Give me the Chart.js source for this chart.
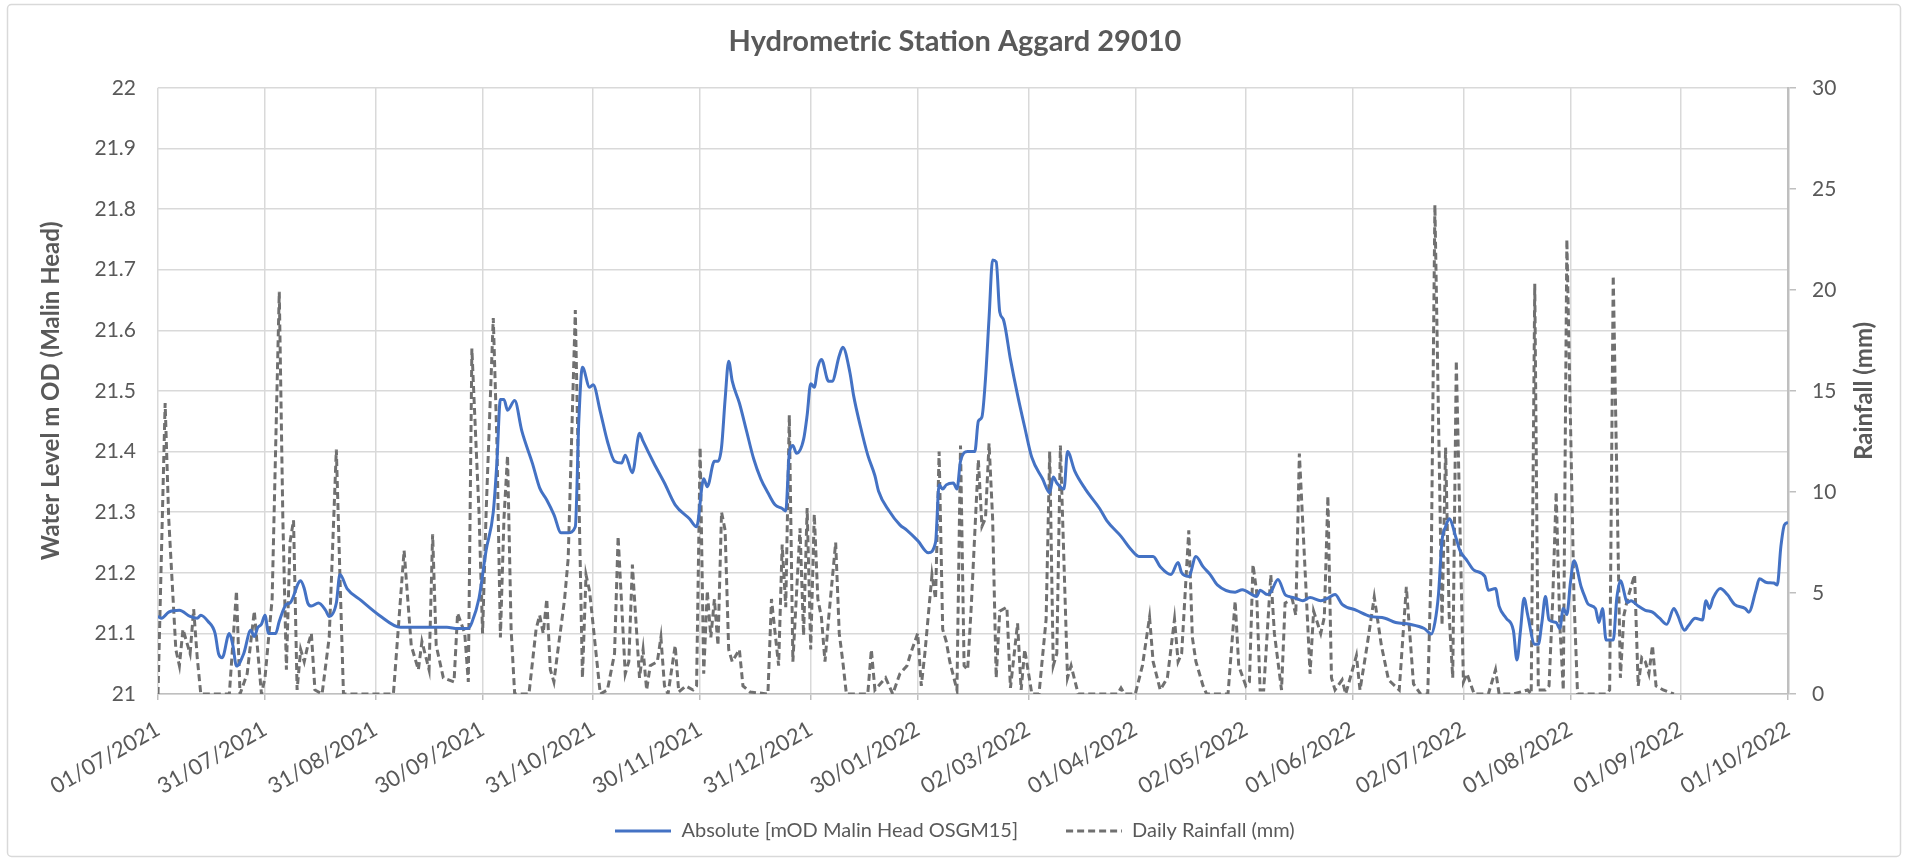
<!DOCTYPE html>
<html>
<head>
<meta charset="utf-8">
<title>Hydrometric Station Aggard 29010</title>
<script src="https://cdn.jsdelivr.net/npm/chart.js@4.4.1/dist/chart.umd.min.js"></script>
<style>
  html, body { margin: 0; padding: 0; background: #fff; }
  canvas { display: block; }
</style>
</head>
<body>
<canvas id="aggard" width="1910" height="861"></canvas>
<script>
// x axis: day number counted from 01/07/2021
const tickDays = [0, 30, 61, 91, 122, 152, 183, 213, 244, 274, 305, 335, 366, 396, 427, 457];
const tickDates = ['01/07/2021', '31/07/2021', '31/08/2021', '30/09/2021', '31/10/2021', '30/11/2021',
  '31/12/2021', '30/01/2022', '02/03/2022', '01/04/2022', '02/05/2022', '01/06/2022',
  '02/07/2022', '01/08/2022', '01/09/2022', '01/10/2022'];

// water level, mOD Malin Head
const levelDays = [0, 1, 3, 6, 9, 11, 12, 14, 16, 17, 18, 20, 21, 22, 24, 26, 27, 28, 29, 30,
  31, 33, 34, 36, 37, 40, 41, 42, 43, 45, 47, 48, 50, 51, 53, 57, 62, 68, 72, 79,
  81, 84, 87, 88, 90, 92, 94, 95, 96, 97, 98, 100, 102, 105, 107, 109, 111, 113, 115, 117,
  118, 119, 121, 122, 124, 126, 128, 130, 131, 133, 135, 136, 139, 142, 145, 149, 151, 153, 154, 156,
  157, 158, 159, 160, 161, 163, 165, 167, 169, 171, 173, 175, 176, 177, 178, 179, 181, 182, 183, 184,
  185, 186, 188, 189, 191, 192, 194, 195, 197, 199, 201, 202, 205, 208, 210, 213, 216, 218, 219, 220,
  221, 223, 224, 225, 227, 229, 230, 231, 232, 233, 234, 235, 236, 237, 239, 241, 243, 245, 248, 250,
  251, 252, 254, 255, 257, 260, 264, 266, 270, 273, 275, 279, 281, 284, 286, 287, 289, 291, 293, 295,
  297, 302, 304, 308, 309, 311, 312, 314, 316, 317, 319, 321, 323, 326, 328, 330, 332, 336, 340, 344,
  347, 351, 355, 357, 358, 359, 360, 361, 362, 364, 365, 367, 369, 372, 373, 375, 376, 378, 380, 381,
  382, 383, 384, 386, 387, 388, 389, 390, 392, 393, 394, 395, 396, 397, 399, 400, 401, 403, 404, 405,
  406, 408, 409, 410, 412, 413, 415, 417, 419, 421, 423, 425, 426, 428, 429, 431, 433, 434, 435, 436,
  438, 440, 442, 445, 446, 448, 449, 451, 453, 454, 455, 456, 457];
const levelValues = [21.128, 21.125, 21.135, 21.138, 21.128, 21.125, 21.13, 21.12, 21.10, 21.066,
  21.06, 21.10, 21.08, 21.046, 21.066, 21.105, 21.095, 21.11, 21.115, 21.13,
  21.10, 21.10, 21.12, 21.148, 21.15, 21.187, 21.174, 21.15, 21.145, 21.15,
  21.138, 21.128, 21.15, 21.197, 21.174, 21.154, 21.13, 21.11, 21.11, 21.11,
  21.11, 21.108, 21.108, 21.118, 21.158, 21.237, 21.30, 21.38, 21.486, 21.486,
  21.468, 21.484, 21.434, 21.38, 21.34, 21.32, 21.296, 21.266, 21.266, 21.276,
  21.453, 21.539, 21.506, 21.51, 21.466, 21.417, 21.384, 21.381, 21.394, 21.365,
  21.43, 21.417, 21.381, 21.348, 21.312, 21.289, 21.276, 21.355, 21.342, 21.384,
  21.384, 21.407, 21.486, 21.549, 21.516, 21.48, 21.434, 21.388, 21.355, 21.332,
  21.312, 21.306, 21.302, 21.397, 21.41, 21.397, 21.42, 21.46, 21.512, 21.506,
  21.539, 21.552, 21.516, 21.516, 21.558, 21.572, 21.53, 21.493, 21.44, 21.394,
  21.36, 21.335, 21.302, 21.279, 21.27, 21.253, 21.233, 21.25, 21.345, 21.338,
  21.345, 21.348, 21.338, 21.384, 21.40, 21.40, 21.45, 21.457, 21.52, 21.62,
  21.716, 21.713, 21.63, 21.618, 21.552, 21.493, 21.44, 21.39, 21.355, 21.332,
  21.358, 21.348, 21.338, 21.40, 21.368, 21.338, 21.306, 21.286, 21.26, 21.237,
  21.227, 21.227, 21.21, 21.197, 21.217, 21.2, 21.194, 21.227, 21.21, 21.197,
  21.18, 21.168, 21.172, 21.161, 21.171, 21.164, 21.168, 21.189, 21.164, 21.161,
  21.158, 21.154, 21.159, 21.154, 21.158, 21.164, 21.148, 21.138, 21.128, 21.125,
  21.118, 21.115, 21.108, 21.099, 21.118, 21.164, 21.253, 21.276, 21.289, 21.256,
  21.237, 21.22, 21.204, 21.194, 21.171, 21.174, 21.145, 21.125, 21.105, 21.056,
  21.105, 21.158, 21.131, 21.082, 21.082, 21.118, 21.161, 21.122, 21.118, 21.108,
  21.141, 21.131, 21.184, 21.22, 21.177, 21.161, 21.148, 21.141, 21.118, 21.141,
  21.089, 21.089, 21.158, 21.187, 21.151, 21.154, 21.145, 21.138, 21.135, 21.125,
  21.115, 21.141, 21.131, 21.105, 21.112, 21.125, 21.122, 21.154, 21.141, 21.158,
  21.174, 21.164, 21.148, 21.141, 21.135, 21.171, 21.19, 21.184, 21.183, 21.18,
  21.243, 21.279, 21.283];

// daily rainfall, mm
const rainDays = [0, 2, 3, 5, 6, 7, 9, 10, 11, 12, 20, 22, 23, 25, 27, 29, 30, 32, 34, 35,
  36, 37, 38, 39, 40, 41, 42, 43, 44, 46, 48, 50, 51, 52, 66, 69, 71, 73, 74, 76,
  77, 78, 80, 83, 84, 86, 87, 88, 89, 90, 91, 92, 94, 95, 96, 97, 98, 99, 100, 104,
  106, 107, 108, 109, 110, 111, 112, 114, 115, 117, 119, 120, 121, 124, 126, 128, 129, 131, 132, 133,
  135, 136, 137, 138, 140, 141, 142, 143, 145, 146, 148, 150, 151, 152, 153, 154, 155, 156, 157, 158,
  159, 160, 161, 163, 164, 166, 171, 172, 174, 175, 176, 177, 178, 180, 181, 182, 183, 184, 185, 186,
  187, 188, 190, 191, 192, 193, 199, 200, 201, 204, 206, 208, 210, 211, 213, 214, 215, 217, 218, 219,
  220, 221, 222, 224, 225, 226, 227, 228, 230, 231, 232, 233, 234, 235, 236, 238, 239, 241, 242, 243,
  245, 247, 249, 250, 251, 252, 253, 255, 256, 258, 269, 270, 271, 274, 276, 278, 279, 281, 283, 285,
  286, 287, 289, 290, 291, 293, 294, 300, 302, 303, 305, 306, 307, 308, 309, 310, 312, 313, 315, 316,
  318, 319, 320, 322, 323, 324, 326, 327, 328, 329, 330, 332, 333, 336, 337, 339, 341, 343, 345, 348,
  350, 352, 354, 356, 357, 358, 360, 361, 362, 363, 364, 366, 367, 369, 373, 375, 376, 380, 384, 385,
  386, 387, 389, 390, 391, 392, 393, 394, 395, 397, 398, 406, 407, 408, 410, 411, 412, 414, 415, 416,
  417, 418, 419, 420, 422, 425];
const rainValues = [0, 14.4, 8.7, 2.2, 1.4, 3.2, 2.0, 4.2, 1.8, 0, 0, 5.1, 0, 1.0, 4.1, 0, 0.8, 4.7, 19.9, 8.7,
  1.2, 7.5, 8.6, 0.2, 2.2, 1.6, 2.4, 3.0, 0.2, 0, 2.8, 12.1, 5.9, 0, 0, 7.1, 2.4, 1.2, 2.6, 1.2,
  7.9, 2.4, 0.8, 0.6, 4.0, 3.0, 0.6, 17.1, 13.0, 9.0, 3.0, 9.0, 18.6, 12.6, 2.8, 8.7, 11.8, 3.2, 0, 0,
  3.2, 3.9, 3.0, 4.7, 1.2, 0.6, 2.0, 4.7, 6.7, 19.0, 0.8, 5.9, 5.1, 0, 0.2, 2.0, 7.8, 1.0, 1.6, 6.4,
  0.8, 2.2, 0.2, 1.4, 1.6, 2.8, 0.4, 0, 2.4, 0.1, 0.4, 0.2, 0.4, 12.2, 1.0, 5.1, 2.8, 4.7, 2.4, 9.0,
  8.1, 2.2, 1.6, 2.2, 0.4, 0.1, 0, 4.7, 1.4, 7.4, 4.3, 13.8, 1.6, 8.2, 2.9, 9.2, 2.2, 8.9, 4.7, 3.8,
  1.6, 3.7, 7.5, 3.0, 1.6, 0, 0, 2.2, 0.2, 0.8, 0, 1.0, 1.4, 2.0, 3.0, 0.4, 2.0, 5.9, 4.7, 12.0,
  3.2, 2.6, 1.6, 0.2, 12.3, 1.4, 1.2, 4.3, 11.6, 8.3, 8.7, 12.4, 8.7, 0.8, 4.1, 4.3, 0.3, 3.5, 0.2, 2.2,
  0, 0, 3.7, 12.0, 1.4, 2.0, 12.3, 0.8, 1.4, 0, 0, 0.3, 0, 0, 1.4, 3.8, 1.6, 0.2, 0.8, 3.7,
  1.6, 2.0, 8.1, 2.8, 1.6, 0.4, 0, 0, 4.6, 1.4, 0.4, 0.6, 6.4, 5.1, 0.2, 0.2, 5.9, 3.0, 0.2, 4.5,
  4.7, 3.9, 11.9, 4.7, 1.0, 4.1, 3.0, 3.8, 9.8, 0.8, 0.2, 0.7, 0, 1.9, 0.2, 2.4, 4.8, 2.4, 0.7, 0.2,
  5.3, 0.5, 0, 0, 6.7, 24.2, 3.4, 12.2, 3.9, 0.8, 16.5, 0.6, 1.0, 0, 0, 1.2, 0, 0, 0.2, 0,
  20.3, 0.2, 0.2, 0.4, 4.5, 10.0, 3.5, 0.2, 22.5, 4.7, 0, 0, 0.2, 20.7, 0.8, 3.9, 4.7, 5.9, 0.4, 1.8,
  1.6, 1.0, 2.4, 0.4, 0.2, 0];

const levelPoints = levelDays.map((d, i) => ({ x: d, y: levelValues[i] }));
const rainPoints = rainDays.map((d, i) => ({ x: d, y: rainValues[i] }));

const textGrey = '#595959';
const fontName = 'Lato, "Liberation Sans", sans-serif';
const levelColour = '#4472c4';
const rainColour = '#707070';
const rainDash = [7, 4];

// little line samples for the legend (keeps the dash visible)
function legendSwatch(colour, dash) {
  const c = document.createElement('canvas');
  c.width = 56;
  c.height = 4;
  const g = c.getContext('2d');
  g.strokeStyle = colour;
  g.lineWidth = 3;
  g.setLineDash(dash);
  g.beginPath();
  g.moveTo(0, 2);
  g.lineTo(56, 2);
  g.stroke();
  return c;
}

// white card with thin grey border, like the Excel chart area
const chartFrame = {
  id: 'chartFrame',
  beforeDraw(chart) {
    const c = chart.ctx;
    c.save();
    c.fillStyle = '#ffffff';
    c.fillRect(0, 0, chart.width, chart.height);
    c.strokeStyle = '#d9d9d9';
    c.lineWidth = 1.5;
    c.beginPath();
    c.roundRect(7.5, 4.5, 1893, 852, 4);
    c.stroke();
    c.restore();
  }
};

// date labels hang below the x axis box, so don't let them get clipped
const looseDateLabels = {
  id: 'looseDateLabels',
  afterLayout(chart) {
    chart.scales.x.bottom = chart.height;
  }
};

// secondary axis title reads bottom to top
const rainTitle = {
  id: 'rainTitle',
  afterDraw(chart) {
    const c = chart.ctx;
    const area = chart.chartArea;
    c.save();
    c.translate(1864, (area.top + area.bottom) / 2);
    c.rotate(-Math.PI / 2);
    c.font = 'bold 24px ' + fontName;
    c.fillStyle = textGrey;
    c.textAlign = 'center';
    c.textBaseline = 'middle';
    c.fillText('Rainfall (mm)', 0, 0);
    c.restore();
  }
};

const ctx = document.getElementById('aggard').getContext('2d');
const aggardChart = new Chart(ctx, {
  type: 'line',
  data: {
    datasets: [{
        label: 'Absolute [mOD Malin Head OSGM15]',
        data: levelPoints,
        yAxisID: 'y',
        borderColor: levelColour,
        backgroundColor: levelColour,
        borderWidth: 3,
        pointRadius: 0,
        pointStyle: legendSwatch(levelColour, []),
        cubicInterpolationMode: 'monotone'
      },
      {
        label: 'Daily Rainfall (mm)',
        data: rainPoints,
        yAxisID: 'y1',
        borderColor: rainColour,
        backgroundColor: rainColour,
        borderWidth: 3,
        borderDash: rainDash,
        pointRadius: 0,
        pointStyle: legendSwatch(rainColour, rainDash),
        tension: 0
      }
    ]
  },
  options: {
    responsive: false,
    animation: false,
    devicePixelRatio: 1,
    layout: {
      padding: { left: 0, right: 0, top: 0, bottom: 10 }
    },
    scales: {
      x: {
        type: 'linear',
        min: 0,
        max: 457,
        afterBuildTicks: (scale) => {
          scale.ticks = tickDays.map(d => ({ value: d }));
        },
        afterFit: (scale) => {
          scale.height = 79;
        },
        ticks: {
          autoSkip: false,
          minRotation: 30,
          maxRotation: 30,
          padding: 16,
          color: textGrey,
          font: { family: fontName, size: 22 },
          callback: (value, index) => tickDates[index]
        },
        grid: {
          color: '#d9d9d9',
          lineWidth: 1.5,
          tickColor: '#bfbfbf',
          tickLength: 6
        },
        border: { color: '#bfbfbf', width: 1.5 }
      },
      y: {
        position: 'left',
        min: 21,
        max: 22,
        afterFit: (scale) => {
          scale.width = 158;
        },
        ticks: {
          stepSize: 0.1,
          padding: 22,
          color: textGrey,
          font: { family: fontName, size: 21 },
          callback: (value) => String(Number(value.toFixed(1)))
        },
        grid: {
          color: '#d9d9d9',
          lineWidth: 1.5,
          drawTicks: false
        },
        border: { display: false },
        title: {
          display: true,
          text: 'Water Level m OD (Malin Head)',
          color: textGrey,
          font: { family: fontName, size: 24, weight: 'bold' },
          padding: { top: 37, bottom: 0 }
        }
      },
      y1: {
        position: 'right',
        min: 0,
        max: 30,
        afterFit: (scale) => {
          scale.width = 122;
        },
        ticks: {
          stepSize: 5,
          padding: 16,
          color: textGrey,
          font: { family: fontName, size: 21 }
        },
        grid: {
          drawOnChartArea: false,
          color: '#bfbfbf',
          tickLength: 8,
          lineWidth: 1.5
        },
        border: { color: '#bfbfbf', width: 2.5 }
      }
    },
    plugins: {
      title: {
        display: true,
        text: 'Hydrometric Station Aggard 29010',
        color: textGrey,
        font: { family: fontName, size: 29, weight: 'bold' },
        padding: { top: 24, bottom: 29 }
      },
      legend: {
        position: 'bottom',
        labels: {
          usePointStyle: true,
          pointStyleWidth: 56,
          padding: 48,
          color: textGrey,
          font: { family: fontName, size: 20 }
        }
      },
      tooltip: { enabled: false }
    }
  },
  plugins: [chartFrame, looseDateLabels, rainTitle]
});
</script>
</body>
</html>
